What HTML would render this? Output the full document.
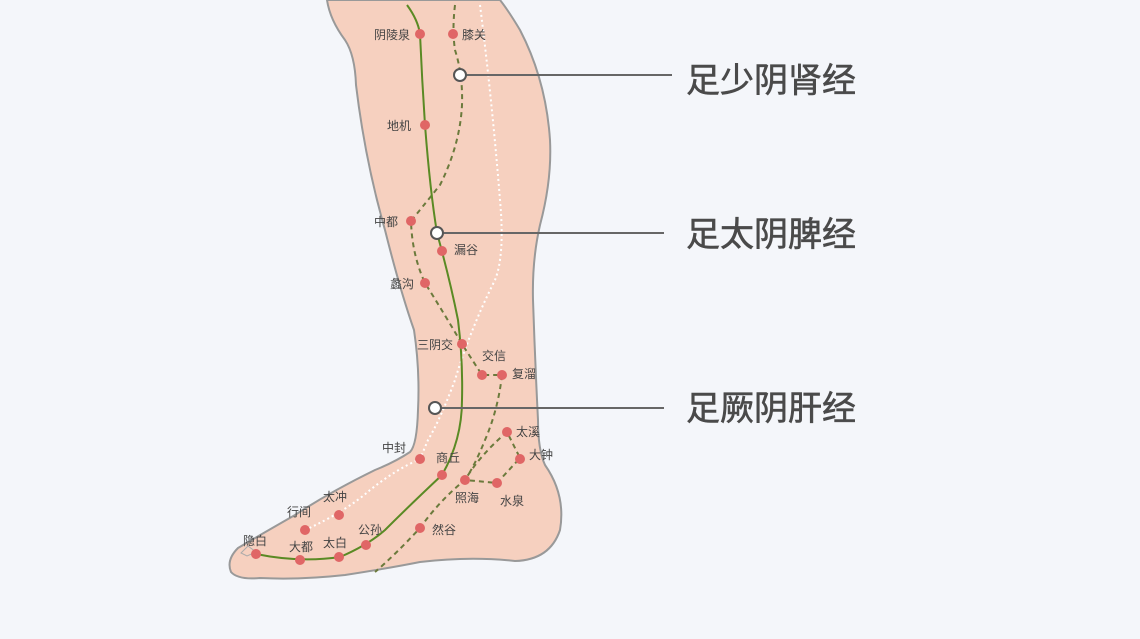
<!DOCTYPE html>
<html><head><meta charset="utf-8"><style>
html,body{margin:0;padding:0;background:#f4f6fa;}
svg{display:block}
.t{font-family:"Liberation Sans","Noto Sans CJK SC",sans-serif;font-size:12px;fill:#444;}
.b{font-family:"Liberation Sans","Noto Sans CJK SC",sans-serif;font-size:34px;font-weight:normal;fill:#4a4a4a;stroke:#4a4a4a;stroke-width:0.6px;}
</style></head><body>
<svg width="1140" height="639" viewBox="0 0 1140 639" xmlns="http://www.w3.org/2000/svg">
<rect width="1140" height="639" fill="#f4f6fa"/>
<path d="M327,0 Q330,20 345,40 Q355,55 356,85 Q365,160 385,230 Q400,290 414,330 Q420,370 418,410 Q417,445 410,452 Q395,462 375,470 Q330,492 295,515 Q260,535 238,548 Q226,560 231,572 Q238,580 260,578 Q300,580 345,575 Q390,568 420,562 Q470,556 515,561 Q550,560 560,530 Q566,495 545,465 Q538,450 538,420 Q535,360 533,300 Q532,260 540,225 Q552,180 550,140 Q546,80 520,30 Q508,10 500,0 Z" fill="#f6d0bf" stroke="#999" stroke-width="2"/>
<path d="M241,553 L248,546 L256,552 L247,556 Z" fill="none" stroke="#aaa" stroke-width="1"/>
<path d="M480,5 Q492,100 500,200 Q505,255 495,280 Q470,330 455,380 Q440,420 428,440 L420,459 Q395,470 370,490 Q345,512 305,530" fill="none" stroke="#fff" stroke-width="2" stroke-dasharray="2,3"/>
<path d="M455,5 Q452,30 455,50 Q463,75 462,105 Q460,145 440,185 Q420,210 411,221 Q412,255 425,283 Q445,315 462,344 L482,375 L502,375 Q498,410 485,440 Q475,465 465,480 L497,483 L520,458 L507,432 Q480,455 465,480 Q440,500 420,528 Q395,555 375,572" fill="none" stroke="#6b7a3c" stroke-width="2" stroke-dasharray="5,4"/>
<path d="M407,5 Q418,20 420,34 Q422,80 425,125 Q430,190 437,233 Q450,280 458,320 Q463,360 462,400 Q462,440 442,475 Q410,505 385,530 Q368,545 340,557 Q300,563 256,554" fill="none" stroke="#5a8a24" stroke-width="2"/>
<g fill="#e06666">
<circle cx="420" cy="34" r="5"/><circle cx="453" cy="34" r="5"/><circle cx="425" cy="125" r="5"/>
<circle cx="411" cy="221" r="5"/><circle cx="442" cy="251" r="5"/><circle cx="425" cy="283" r="5"/>
<circle cx="462" cy="344" r="5"/><circle cx="482" cy="375" r="5"/><circle cx="502" cy="375" r="5"/>
<circle cx="507" cy="432" r="5"/><circle cx="520" cy="459" r="5"/><circle cx="420" cy="459" r="5"/>
<circle cx="442" cy="475" r="5"/><circle cx="465" cy="480" r="5"/><circle cx="497" cy="483" r="5"/>
<circle cx="339" cy="515" r="5"/><circle cx="305" cy="530" r="5"/><circle cx="420" cy="528" r="5"/>
<circle cx="366" cy="545" r="5"/><circle cx="256" cy="554" r="5"/><circle cx="300" cy="560" r="5"/>
<circle cx="339" cy="557" r="5"/>
</g>
<g stroke="#666" stroke-width="2">
<line x1="460" y1="75" x2="672" y2="75"/><line x1="437" y1="233" x2="664" y2="233"/><line x1="435" y1="408" x2="664" y2="408"/>
</g>
<g fill="#fff" stroke="#555" stroke-width="2">
<circle cx="460" cy="75" r="6"/><circle cx="437" cy="233" r="6"/><circle cx="435" cy="408" r="6"/>
</g>
<g class="t">
<text x="374" y="39">阴陵泉</text><text x="462" y="39">膝关</text><text x="387" y="130">地机</text>
<text x="374" y="226">中都</text><text x="454" y="254">漏谷</text><text x="390" y="288">蠡沟</text>
<text x="417" y="349">三阴交</text><text x="482" y="360">交信</text><text x="512" y="378">复溜</text>
<text x="516" y="436">太溪</text><text x="529" y="459">大钟</text><text x="382" y="452">中封</text>
<text x="436" y="462">商丘</text><text x="455" y="502">照海</text><text x="500" y="505">水泉</text>
<text x="323" y="501">太冲</text><text x="287" y="516">行间</text><text x="358" y="534">公孙</text>
<text x="432" y="534">然谷</text><text x="243" y="545">隐白</text><text x="289" y="551">大都</text>
<text x="323" y="547">太白</text>
</g>
<g class="b">
<text x="686" y="92" textLength="170" lengthAdjust="spacingAndGlyphs">足少阴肾经</text>
<text x="686" y="246" textLength="170" lengthAdjust="spacingAndGlyphs">足太阴脾经</text>
<text x="686" y="420" textLength="170" lengthAdjust="spacingAndGlyphs">足厥阴肝经</text>
</g>
</svg>
</body></html>
